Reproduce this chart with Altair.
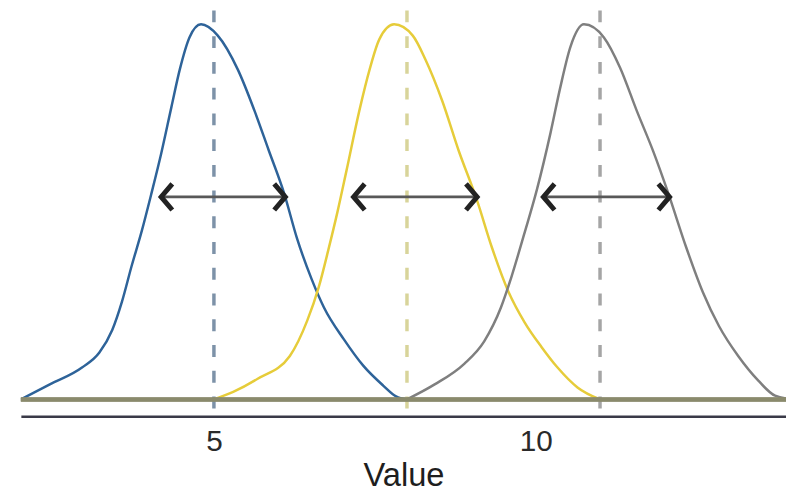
import altair as alt
import pandas as pd

# ---- data ----
blue_x = [2.0, 2.45, 2.95, 3.22, 3.42, 3.57, 3.72, 3.88, 4.03, 4.18, 4.34, 4.47, 4.62, 4.8,
          5.06, 5.37, 5.63, 5.85, 6.09, 6.29, 6.52, 6.71, 7.02, 7.32, 7.63, 7.83, 8.0]
blue_y = [0.0, 0.04, 0.085, 0.125, 0.185, 0.26, 0.355, 0.45, 0.55, 0.655, 0.78, 0.88, 0.965, 1.0,
          0.97, 0.88, 0.77, 0.665, 0.55, 0.43, 0.32, 0.245, 0.16, 0.09, 0.037, 0.008, 0.0]

yellow_x = [5.0, 5.3, 5.68, 6.18, 6.45, 6.63, 6.78, 6.92, 7.06, 7.26, 7.42, 7.57, 7.8, 8.09, 8.29,
            8.55, 8.8, 9.09, 9.32, 9.57, 9.83, 10.09, 10.34, 10.65, 11.0]
yellow_y = [0.0, 0.02, 0.055, 0.116, 0.21, 0.3, 0.4, 0.5, 0.61, 0.77, 0.88, 0.96, 1.0, 0.97, 0.905,
            0.795, 0.665, 0.53, 0.405, 0.29, 0.205, 0.14, 0.085, 0.032, 0.0]

gray_x = [8.0, 8.43, 8.89, 9.2, 9.46, 9.62, 9.82, 10.02, 10.23, 10.38, 10.54, 10.75, 11.06, 11.31,
          11.57, 11.83, 12.06, 12.34, 12.6, 12.85, 13.15, 13.46, 13.72, 14.0]
gray_y = [0.0, 0.04, 0.095, 0.155, 0.245, 0.325, 0.44, 0.56, 0.71, 0.83, 0.94, 1.0, 0.965, 0.885,
          0.77, 0.66, 0.55, 0.405, 0.285, 0.195, 0.115, 0.05, 0.01, 0.0]

series = ["blue", "yellow", "gray"]
means = [5, 8, 11]
arrow_left = [4.18, 7.17, 10.12]
arrow_right = [6.11, 9.09, 12.08]
arrow_height = [0.54, 0.54, 0.54]
tick_values = [5, 10]

curve_colors = ["#2e6399", "#e6cc3a", "#7f7f7f"]
dash_colors = ["#7d92a8", "#d8d49a", "#a5a5a5"]

# ---- tables ----
rows = []
for name, col, xs, ys in [("blue", curve_colors[0], blue_x, blue_y),
                          ("yellow", curve_colors[1], yellow_x, yellow_y),
                          ("gray", curve_colors[2], gray_x, gray_y)]:
    for i, (xv, yv) in enumerate(zip(xs, ys)):
        rows.append({"series": name, "col": col, "order": i, "x": xv, "y": yv})
curves = pd.DataFrame(rows)

meta = pd.DataFrame({"series": series, "mean": means, "left": arrow_left,
                     "right": arrow_right, "h": arrow_height, "dcol": dash_colors,
                     "zero": [0, 0, 0]})
left_heads = pd.DataFrame({"x": arrow_left, "h": arrow_height})
right_heads = pd.DataFrame({"x": arrow_right, "h": arrow_height})

x_scale = alt.Scale(domain=[2, 13.89], nice=False, zero=False)
y_scale = alt.Scale(domain=[-0.045, 1.037], nice=False, zero=False)

x_axis = alt.Axis(values=tick_values, grid=False, ticks=False, domainColor="#3a3a48",
                  domainWidth=2.5, labelFontSize=30, labelFont="Liberation Sans",
                  labelColor="#2a2a2a", labelPadding=11, title="Value",
                  titleFontSize=33, titleFont="Liberation Sans", titleFontWeight="normal",
                  titleColor="#1e1e1e", titlePadding=3)

dashed = alt.Chart(meta).mark_rule(strokeDash=[12, 14], strokeWidth=3.5).encode(
    x=alt.X("mean:Q", scale=x_scale, axis=x_axis),
    color=alt.Color("dcol:N", scale=None),
)

lines = alt.Chart(curves).mark_line(strokeWidth=2.5, interpolate="monotone", clip=True).encode(
    x=alt.X("x:Q", scale=x_scale, axis=x_axis),
    y=alt.Y("y:Q", scale=y_scale, axis=None),
    color=alt.Color("col:N", scale=None),
    detail="series:N",
    order="order:Q",
)

baseline = alt.Chart(meta).mark_rule(color="#8a8a6c", strokeWidth=4).encode(
    y=alt.Y("zero:Q", scale=y_scale, axis=None),
)

arrow_lines = alt.Chart(meta).mark_rule(color="#585858", strokeWidth=3).encode(
    x=alt.X("left:Q", scale=x_scale, axis=x_axis),
    x2="right:Q",
    y=alt.Y("h:Q", scale=y_scale, axis=None),
)

lheads = alt.Chart(left_heads).mark_point(
    shape="M 0.85 -1 L 0 0 L 0.85 1", size=700, filled=False, strokeWidth=5,
    color="#222222", opacity=1,
).encode(
    x=alt.X("x:Q", scale=x_scale, axis=x_axis),
    y=alt.Y("h:Q", scale=y_scale, axis=None),
)

rheads = alt.Chart(right_heads).mark_point(
    shape="M -0.85 -1 L 0 0 L -0.85 1", size=700, filled=False, strokeWidth=5,
    color="#222222", opacity=1,
).encode(
    x=alt.X("x:Q", scale=x_scale, axis=x_axis),
    y=alt.Y("h:Q", scale=y_scale, axis=None),
)

chart = alt.layer(dashed, lines, baseline, arrow_lines, lheads, rheads).properties(
    width=773, height=410,
    autosize=alt.AutoSizeParams(type="none"),
    padding={"left": 13, "top": 0, "right": 0, "bottom": 76},
).configure_view(stroke=None)

chart.save("out.html", embed_options={"renderer": "svg", "actions": False})
